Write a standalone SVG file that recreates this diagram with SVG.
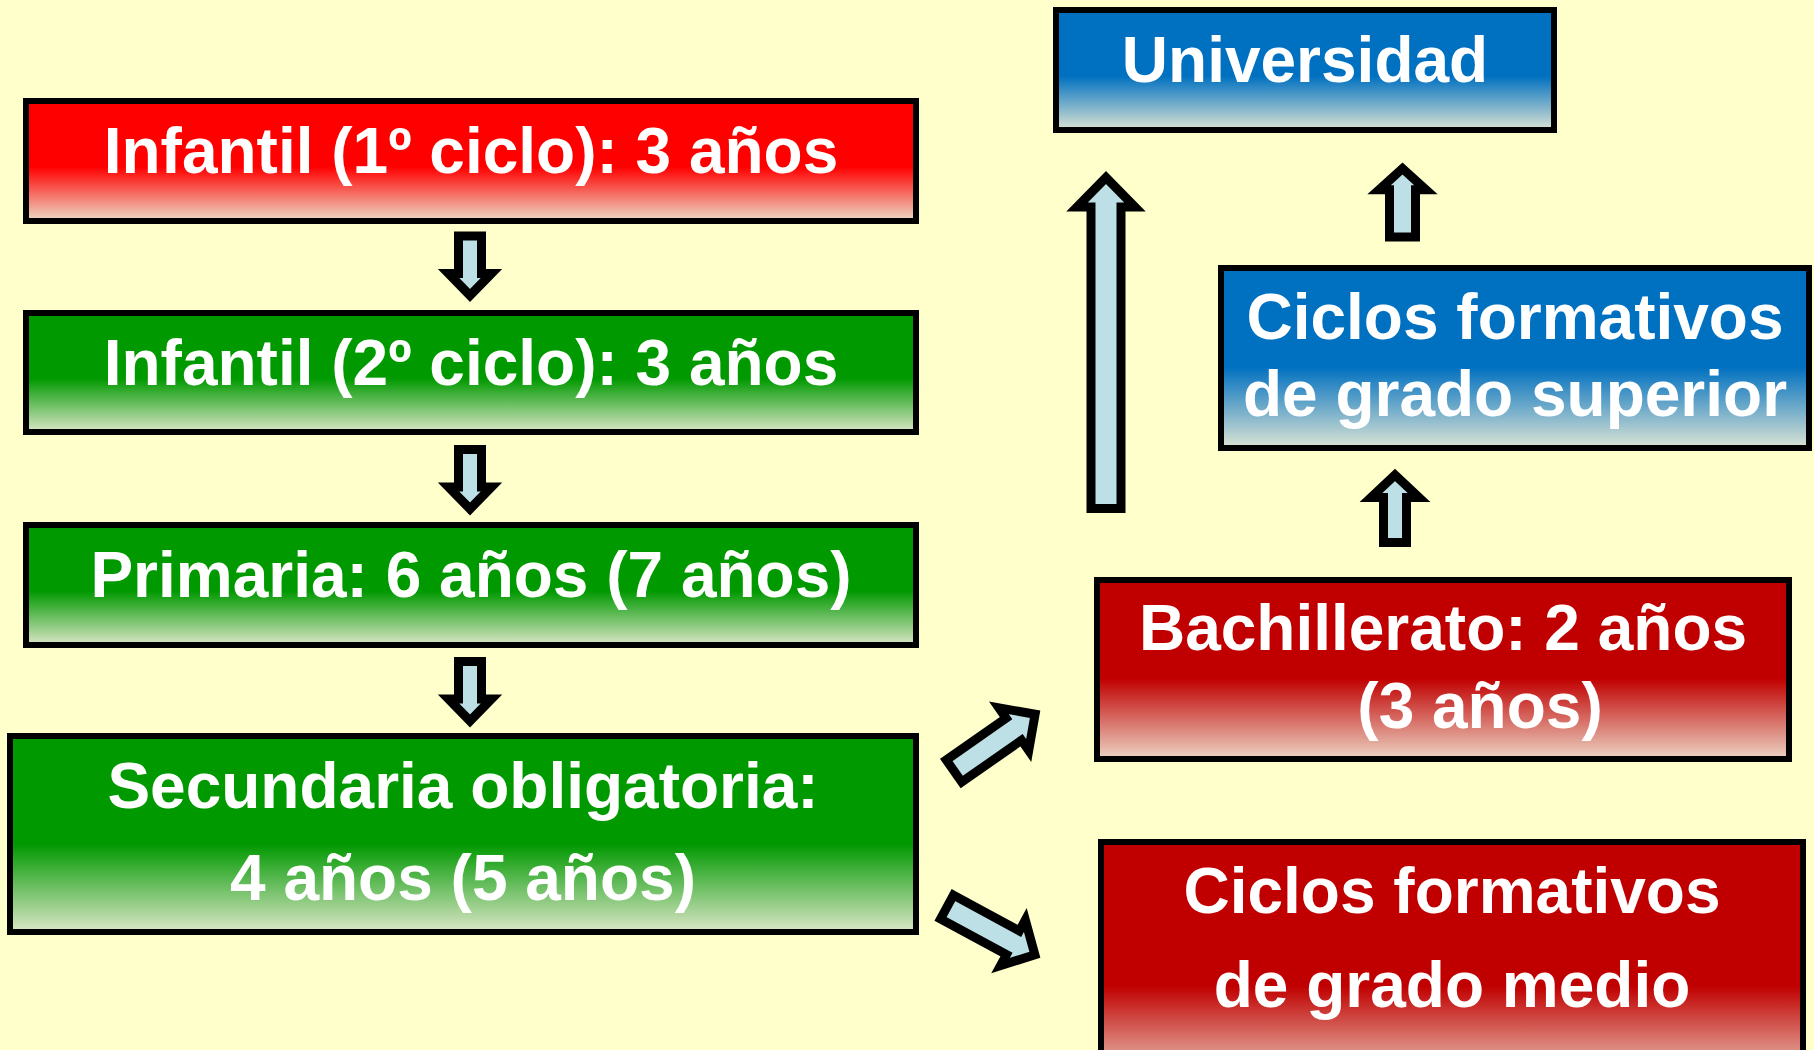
<svg xmlns="http://www.w3.org/2000/svg" width="1814" height="1050" viewBox="0 0 1814 1050">
<defs>
<linearGradient id="gRed" x1="0" y1="0" x2="0" y2="1"><stop offset="0" stop-color="#ff0000"/><stop offset="0.55" stop-color="#ff0000"/><stop offset="1" stop-color="#ecdcc8"/></linearGradient>
<linearGradient id="gGreen" x1="0" y1="0" x2="0" y2="1"><stop offset="0" stop-color="#009900"/><stop offset="0.55" stop-color="#009900"/><stop offset="1" stop-color="#dce6c8"/></linearGradient>
<linearGradient id="gBlue" x1="0" y1="0" x2="0" y2="1"><stop offset="0" stop-color="#0070c0"/><stop offset="0.55" stop-color="#0070c0"/><stop offset="1" stop-color="#dce4d4"/></linearGradient>
<linearGradient id="gDark" x1="0" y1="0" x2="0" y2="1"><stop offset="0" stop-color="#c00000"/><stop offset="0.55" stop-color="#c00000"/><stop offset="1" stop-color="#ecd4c4"/></linearGradient>
<linearGradient id="gDark2" x1="0" y1="0" x2="0" y2="1"><stop offset="0" stop-color="#c00000"/><stop offset="0.6" stop-color="#c00000"/><stop offset="1" stop-color="#ecd4c4"/></linearGradient>
</defs>
<style>
.box{stroke:#000;stroke-width:6}
.t{font-family:"Liberation Sans",Arial,sans-serif;font-weight:bold;font-size:64px;fill:#fff;text-anchor:middle}
.arr{fill:#bce0e6;stroke:#000;stroke-width:9;stroke-linejoin:miter;stroke-miterlimit:10}
</style>
<rect width="1814" height="1050" fill="#ffffcc"/>
<g id="infantil1">
<rect class="box" x="26" y="101" width="890" height="120" fill="url(#gRed)"/>
<text class="t" x="471" y="172.5">Infantil (1º ciclo): 3 años</text>
</g>
<g id="infantil2">
<rect class="box" x="26" y="313" width="890" height="119" fill="url(#gGreen)"/>
<text class="t" x="471" y="384.5">Infantil (2º ciclo): 3 años</text>
</g>
<g id="primaria">
<rect class="box" x="26" y="525" width="890" height="120" fill="url(#gGreen)"/>
<text class="t" x="471" y="596.5">Primaria: 6 años (7 años)</text>
</g>
<g id="secundaria">
<rect class="box" x="10" y="736" width="906" height="196" fill="url(#gGreen)"/>
<text class="t" x="463" y="808">Secundaria obligatoria:</text>
<text class="t" x="463" y="900">4 años (5 años)</text>
</g>
<g id="universidad">
<rect class="box" x="1056" y="10" width="498" height="120" fill="url(#gBlue)"/>
<text class="t" x="1305" y="82">Universidad</text>
</g>
<g id="ciclos-superior">
<rect class="box" x="1221" y="268" width="588" height="180" fill="url(#gBlue)"/>
<text class="t" x="1515" y="339">Ciclos formativos</text>
<text class="t" x="1515" y="416">de grado superior</text>
</g>
<g id="bachillerato">
<rect class="box" x="1097" y="580" width="692" height="179" fill="url(#gDark)"/>
<text class="t" x="1443" y="650">Bachillerato: 2 años</text>
<text class="t" x="1480" y="728">(3 años)</text>
</g>
<g id="ciclos-medio">
<rect class="box" x="1101" y="842" width="702" height="240" fill="url(#gDark2)"/>
<text class="t" x="1452" y="913">Ciclos formativos</text>
<text class="t" x="1452" y="1007">de grado medio</text>
</g>
<g id="connectors">
<path class="arr" transform="translate(470,236)" d="M-11.5 0H11.5V37.5H21.5L0 59.5L-21.5 37.5H-11.5Z"/>
<path class="arr" transform="translate(470,449.5)" d="M-11.5 0H11.5V37.5H21.5L0 59.5L-21.5 37.5H-11.5Z"/>
<path class="arr" transform="translate(470,661.5)" d="M-11.5 0H11.5V37.5H21.5L0 59.5L-21.5 37.5H-11.5Z"/>
<path class="arr" d="M1091 508.5V207H1077L1106 177.5L1135 207H1121V508.5Z"/>
<path class="arr" d="M1389.5 237V189.8H1379L1402.5 168.5L1426 189.8H1415.5V237Z"/>
<path class="arr" d="M1383.5 542.5V497.5H1371L1395 475L1419 497.5H1406.5V542.5Z"/>
<path class="arr" transform="translate(954,771) rotate(-35)" d="M0 -13.5H73V-26L99 0L73 26V13.5H0Z"/>
<path class="arr" transform="translate(947,907) rotate(28.5)" d="M0 -13.5H75V-26L100 0L75 26V13.5H0Z"/>
</g>
</svg>
